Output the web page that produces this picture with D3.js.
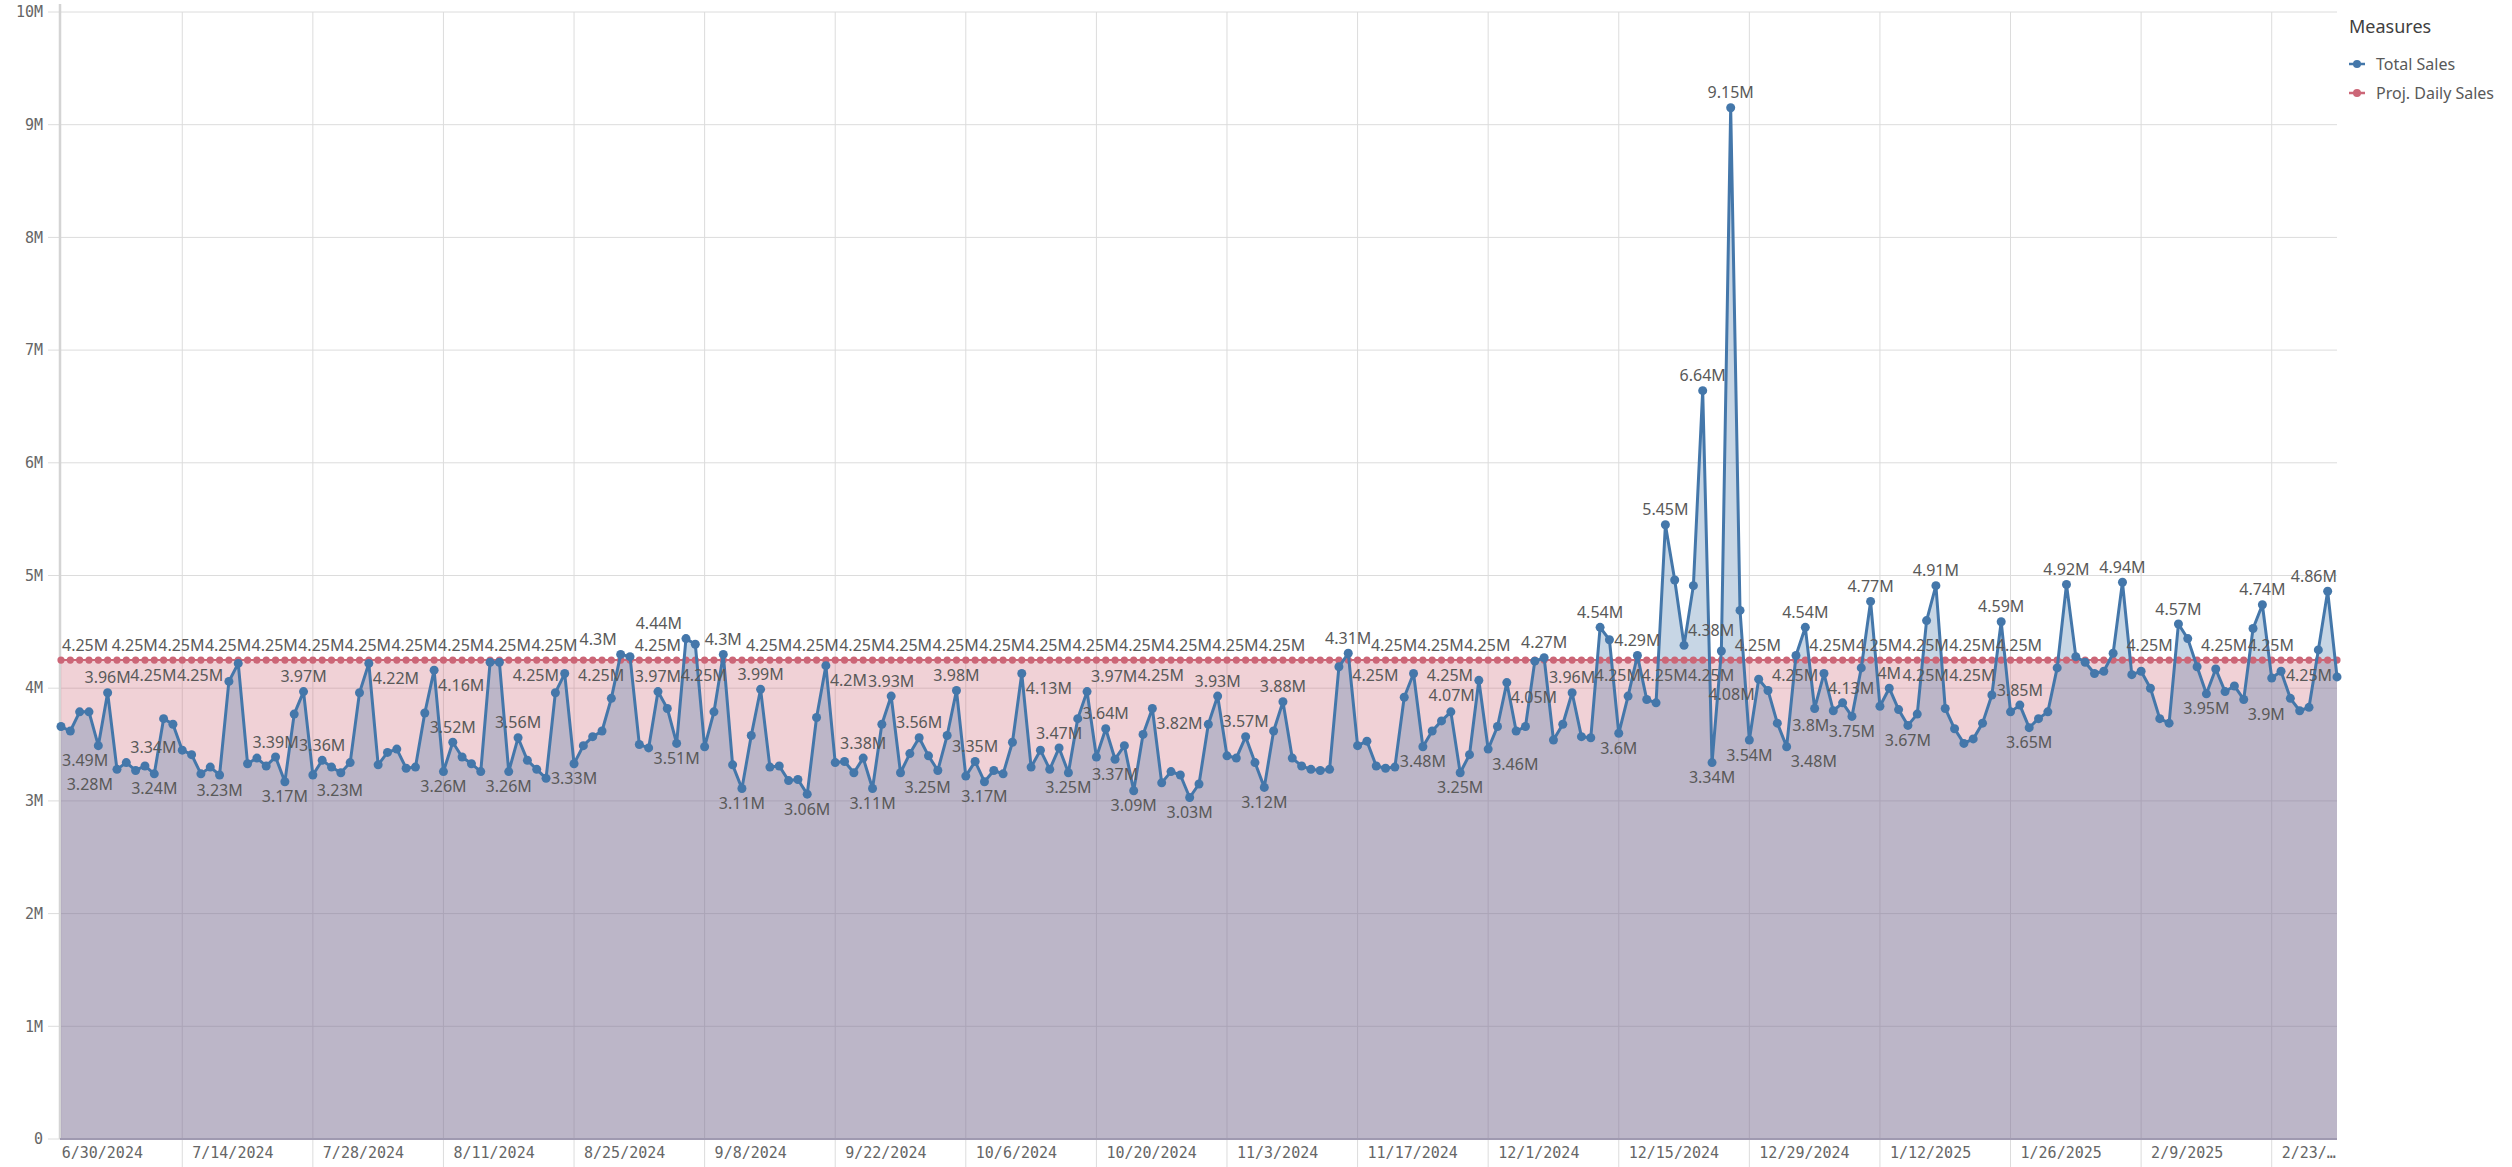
<!DOCTYPE html>
<html>
<head>
<meta charset="utf-8">
<script src="https://cdn.jsdelivr.net/npm/d3@7"></script>
<style>
  body { margin: 0; background: #fff; overflow: hidden; }
  svg { display: block; }
</style>
</head>
<body>
<script>
// daily values, in millions, starting 7/1/2024
const startDay = "2024-07-01";
const totalSales = [
  3.66,3.62,3.79,3.79,3.49,3.96,3.28,3.34,3.27,3.31,
  3.24,3.73,3.68,3.45,3.41,3.24,3.30,3.23,4.06,4.22,
  3.33,3.38,3.31,3.39,3.17,3.77,3.97,3.23,3.36,3.30,
  3.25,3.34,3.96,4.22,3.32,3.43,3.46,3.29,3.30,3.78,
  4.16,3.26,3.52,3.39,3.33,3.26,4.23,4.23,3.26,3.56,
  3.36,3.28,3.20,3.96,4.13,3.33,3.49,3.57,3.62,3.91,
  4.30,4.28,3.50,3.47,3.97,3.82,3.51,4.44,4.39,3.48,
  3.79,4.30,3.32,3.11,3.58,3.99,3.30,3.31,3.18,3.19,
  3.06,3.74,4.20,3.34,3.35,3.25,3.38,3.11,3.68,3.93,
  3.25,3.42,3.56,3.40,3.27,3.58,3.98,3.22,3.35,3.17,
  3.27,3.24,3.52,4.13,3.30,3.45,3.28,3.47,3.25,3.73,
  3.97,3.39,3.64,3.37,3.49,3.09,3.59,3.82,3.16,3.26,
  3.23,3.03,3.15,3.68,3.93,3.40,3.38,3.57,3.34,3.12,
  3.62,3.88,3.38,3.31,3.28,3.27,3.28,4.19,4.31,3.49,
  3.53,3.31,3.29,3.30,3.92,4.13,3.48,3.62,3.71,3.79,
  3.25,3.41,4.07,3.46,3.66,4.05,3.62,3.66,4.24,4.27,
  3.54,3.68,3.96,3.57,3.56,4.54,4.43,3.60,3.93,4.29,
  3.90,3.87,5.45,4.96,4.38,4.91,6.64,3.34,4.33,9.15,
  4.69,3.54,4.08,3.98,3.69,3.48,4.29,4.54,3.82,4.13,
  3.80,3.87,3.75,4.18,4.77,3.84,4.00,3.81,3.67,3.77,
  4.60,4.91,3.82,3.64,3.51,3.55,3.69,3.94,4.59,3.79,
  3.85,3.65,3.73,3.79,4.18,4.92,4.28,4.23,4.13,4.15,
  4.31,4.94,4.12,4.15,4.00,3.73,3.69,4.57,4.44,4.19,
  3.95,4.17,3.97,4.02,3.90,4.53,4.74,4.09,4.15,3.91,
  3.80,3.83,4.34,4.86,4.10
];
const projDailySales = 4.25;   // flat target, same every day

const xTickLabels = ["6/30/2024","7/14/2024","7/28/2024","8/11/2024","8/25/2024","9/8/2024",
  "9/22/2024","10/6/2024","10/20/2024","11/3/2024","11/17/2024","12/1/2024","12/15/2024",
  "12/29/2024","1/12/2025","1/26/2025","2/9/2025","2/23/2025"];
const yTicks = [0,1,2,3,4,5,6,7,8,9,10];
const seriesNames = ["Total Sales", "Proj. Daily Sales"];
const seriesColors = ["#4477aa", "#cc6677"];

const W = 2512, H = 1167;
const plotL = 60, plotR = 2337, plotT = 12, plotB = 1139;

const d0 = d3.utcParse("%Y-%m-%d")(startDay);
const rows = totalSales.map((v, i) => ({ i: i, date: d3.utcDay.offset(d0, i), v: v, p: projDailySales }));

const x = d3.scaleUtc().domain([rows[0].date, rows[rows.length - 1].date]).range([61, plotR]);
const y = d3.scaleLinear().domain([0, 10]).range([plotB, plotT]);

const svg = d3.select("body").append("svg").attr("width", W).attr("height", H);

// grid
svg.append("g").selectAll("line").data(yTicks).enter().append("line")
  .attr("x1", 48).attr("x2", plotR)
  .attr("y1", d => y(d)).attr("y2", d => y(d))
  .attr("stroke", "#dcdcdc").attr("stroke-width", 1);

const parseTick = d3.utcParse("%m/%d/%Y");
const ticks = xTickLabels.map(s => ({ s: s, x: x(parseTick(s)) }));

svg.append("g").selectAll("line").data(ticks.filter(t => t.x > plotL)).enter().append("line")
  .attr("x1", d => d.x).attr("x2", d => d.x)
  .attr("y1", plotT).attr("y2", H)
  .attr("stroke", "#dcdcdc").attr("stroke-width", 1);

// y axis line
svg.append("line").attr("x1", plotL).attr("x2", plotL).attr("y1", 4).attr("y2", plotB)
  .attr("stroke", "#d4d4d4").attr("stroke-width", 2.5);

// areas
const projArea = d3.area().x(d => x(d.date)).y0(plotB).y1(d => y(d.p));
const salesArea = d3.area().x(d => x(d.date)).y0(plotB).y1(d => y(d.v));
svg.append("path").datum(rows).attr("d", projArea).attr("fill", seriesColors[1]).attr("fill-opacity", 0.3);
svg.append("path").datum(rows).attr("d", salesArea).attr("fill", seriesColors[0]).attr("fill-opacity", 0.3);

// x axis baseline
svg.append("line").attr("x1", plotL).attr("x2", plotR).attr("y1", plotB).attr("y2", plotB)
  .attr("stroke", "#9f99b0").attr("stroke-width", 2);

// lines + points
svg.append("path").datum(rows)
  .attr("d", d3.line().x(d => x(d.date)).y(d => y(d.p)))
  .attr("fill", "none").attr("stroke", seriesColors[1]).attr("stroke-width", 2);
svg.append("g").selectAll("circle").data(rows).enter().append("circle")
  .attr("cx", d => x(d.date)).attr("cy", d => y(d.p)).attr("r", 3.6)
  .attr("fill", seriesColors[1]);

svg.append("path").datum(rows)
  .attr("d", d3.line().x(d => x(d.date)).y(d => y(d.v)))
  .attr("fill", "none").attr("stroke", seriesColors[0]).attr("stroke-width", 3).attr("stroke-linejoin", "round");
svg.append("g").selectAll("circle").data(rows).enter().append("circle")
  .attr("cx", d => x(d.date)).attr("cy", d => y(d.v)).attr("r", 4.5)
  .attr("fill", seriesColors[0]);

// y labels
svg.append("g").selectAll("text").data(yTicks).enter().append("text")
  .attr("x", 43).attr("y", d => y(d)).attr("dy", "0.35em")
  .attr("text-anchor", "end")
  .attr("font-family", "DejaVu Sans Mono").attr("font-size", 15).attr("fill", "#666")
  .text(d => d === 0 ? "0" : d + "M");

// x labels (last one gets cut like the original)
const xl = svg.append("g").selectAll("text").data(ticks).enter().append("text")
  .attr("x", d => d.x + 10).attr("y", 1153).attr("dy", "0.35em")
  .attr("font-family", "DejaVu Sans Mono").attr("font-size", 15).attr("fill", "#666")
  .text(d => d.s);
xl.each(function(d) {
  const el = d3.select(this);
  let s = d.s;
  while (d.x + 10 + this.getComputedTextLength() > plotR && s.length > 1) {
    s = s.slice(0, -1);
    el.text(s + "…");
  }
});

// ---- value labels: greedy placement, no overlaps ----
const ctx = document.createElement("canvas").getContext("2d");
ctx.font = "16px 'Noto Sans'";
const fmt = v => (+v.toFixed(2)) + "M";
const lh = 17, off = 15;
// obstacles: the points and the flat projection line
const placed = rows.map(d => ({ x0: x(d.date) - 5, x1: x(d.date) + 5, y0: y(d.v) - 5, y1: y(d.v) + 5 }));
placed.push({ x0: plotL, x1: plotR, y0: y(projDailySales) - 4, y1: y(projDailySales) + 4 });

const labels = [];
function tryPlace(px, py, text, cands) {
  const w = ctx.measureText(text).width;
  for (const c of cands) {
    let cx = px, cy = py + (c[1] === "up" ? -off : off);
    if (c[0] === "r") cx = px + 4 + w / 2;
    if (c[0] === "l") cx = px - 4 - w / 2;
    cx = Math.max(plotL + 2 + w / 2, Math.min(plotR - w / 2, cx));
    const b = { x0: cx - w / 2, x1: cx + w / 2, y0: cy - lh / 2, y1: cy + lh / 2 };
    const hit = placed.some(p => b.x0 < p.x1 - 0.5 && b.x1 > p.x0 + 0.5 && b.y0 < p.y1 && b.y1 > p.y0);
    if (!hit) { placed.push(b); labels.push({ cx: cx, cy: cy, text: text }); return true; }
  }
  return false;
}
const peakC = [["c","up"],["r","up"],["l","up"],["r","dn"],["l","dn"]];
const lowC  = [["c","dn"],["r","dn"],["l","dn"],["r","up"],["l","up"]];

// extremes of the sales line, biggest swing first
const extremes = [];
rows.forEach((d, i) => {
  if (i === 0 || i === rows.length - 1) return;
  const a = rows[i - 1].v, b = rows[i + 1].v;
  if (d.v >= a && d.v >= b) extremes.push({ d: d, peak: true, prom: Math.min(d.v - a, d.v - b) });
  else if (d.v <= a && d.v <= b) extremes.push({ d: d, peak: false, prom: Math.min(a - d.v, b - d.v) });
});
extremes.sort((a, b) => b.prom - a.prom);

// 1. peaks above the target
extremes.filter(e => e.peak && e.d.v > projDailySales)
  .forEach(e => { e.done = tryPlace(x(e.d.date), y(e.d.v), fmt(e.d.v), peakC); });
// 2. target labels above its line
rows.forEach(d => tryPlace(x(d.date), y(d.p), fmt(d.p), [["c","up"],["r","up"]]));
// 3. remaining peaks / lows
extremes.filter(e => !e.done && e.prom >= 0.05)
  .forEach(e => tryPlace(x(e.d.date), y(e.d.v), fmt(e.d.v), e.peak ? peakC : lowC));
// 4. target labels below its line
rows.forEach(d => tryPlace(x(d.date), y(d.p), fmt(d.p), [["c","dn"],["r","dn"]]));

svg.append("g").selectAll("text").data(labels).enter().append("text")
  .attr("x", d => d.cx).attr("y", d => d.cy).attr("dy", "0.35em")
  .attr("text-anchor", "middle")
  .attr("font-family", "Noto Sans").attr("font-size", 16).attr("fill", "#595959")
  .text(d => d.text);

// legend
const lg = svg.append("g").attr("transform", "translate(2349,0)");
lg.append("text").attr("x", 0).attr("y", 27).attr("dy", "0.35em")
  .attr("font-family", "Noto Sans").attr("font-size", 18).attr("fill", "#404040")
  .text("Measures");
const li = lg.selectAll("g.item").data(seriesNames).enter().append("g")
  .attr("transform", (d, i) => `translate(0,${64 + i * 29})`);
li.append("line").attr("x1", 0).attr("x2", 16).attr("stroke", (d, i) => seriesColors[i]).attr("stroke-width", 2.5);
li.append("circle").attr("cx", 8).attr("r", 4).attr("fill", (d, i) => seriesColors[i]);
li.append("text").attr("x", 27).attr("dy", "0.35em")
  .attr("font-family", "Noto Sans").attr("font-size", 16).attr("fill", "#595959")
  .text(d => d);
</script>
</body>
</html>
